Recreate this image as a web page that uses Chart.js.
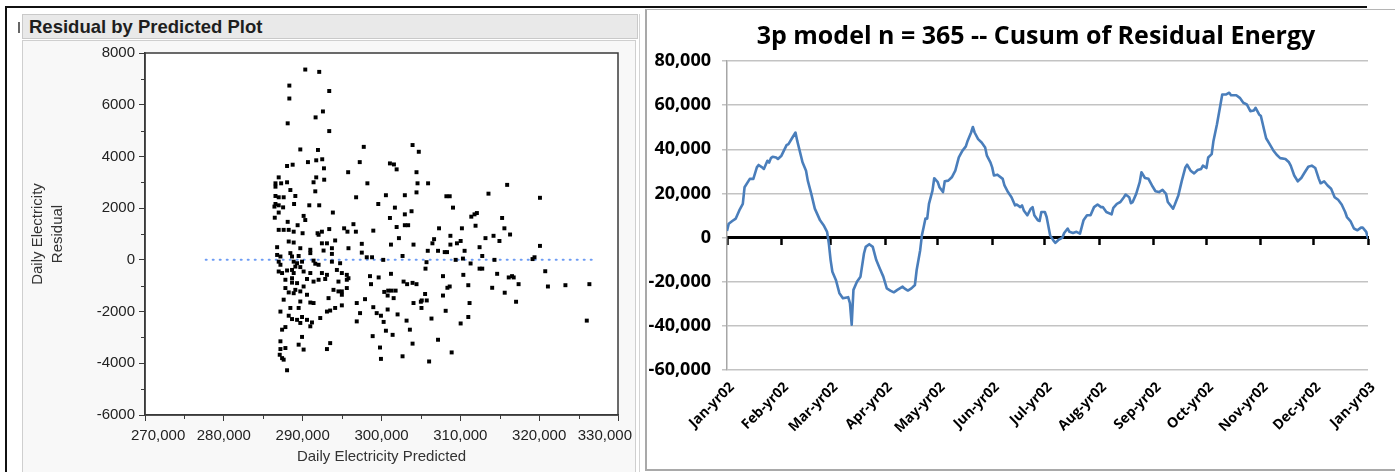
<!DOCTYPE html>
<html>
<head>
<meta charset="utf-8">
<script src="https://cdn.jsdelivr.net/npm/chart.js@4.4.0/dist/chart.umd.min.js"></script>
<style>
  html, body { margin: 0; padding: 0; background: #fff; }
  body { width: 1395px; height: 472px; position: relative; overflow: hidden; font-family: "Liberation Sans", Arial, sans-serif; }
  #topLine { position: absolute; left: 5px; top: 6px; width: 1362px; height: 2px; background: #111; }
  #leftLine { position: absolute; left: 5px; top: 6px; width: 2px; height: 466px; background: #111; }
  #mark { position: absolute; left: 18px; top: 22px; width: 2px; height: 11px; background: #666; }
  #titleBar { position: absolute; left: 22px; top: 14px; width: 614px; height: 23px; background: #e9e9e9; border: 1px solid #c9c9c9; }
  #titleBar span { position: absolute; left: 6px; top: 1px; font: bold 18.5px "Liberation Sans", Arial, sans-serif; color: #1e1e1e; white-space: nowrap; }
  #leftPanel { position: absolute; left: 22px; top: 40px; width: 612px; height: 432px; background: #f8f8f8; border: 1px solid #cfcfcf; border-bottom: none; }
  #outerEdge { position: absolute; left: 639px; top: 14px; width: 1px; height: 458px; background: #d4d4d4; }
  #rightPanel { position: absolute; left: 645px; top: 9px; width: 748px; height: 459px; background: #fff;
                border-left: 2px solid #a9a9a9; border-top: 1px solid #b5b5b5; border-bottom: 2px solid #a9a9a9; }
  #cusumTitle { position: absolute; left: 736px; top: 19px; width: 600px; text-align: center;
                font: bold 25px/30px "Open Sans", sans-serif; color: #000; white-space: nowrap; }
  canvas { display: block; }
</style>
</head>
<body>
<div id="topLine"></div>
<div id="leftLine"></div>
<div id="mark"></div>
<div id="titleBar"><span>Residual by Predicted Plot</span></div>
<div id="leftPanel"><canvas id="residualChart" width="612" height="432"></canvas></div>
<div id="outerEdge"></div>
<div id="rightPanel"><canvas id="cusumChart" width="748" height="459"></canvas></div>
<div id="cusumTitle">3p model n = 365 -- Cusum of Residual Energy</div>

<script>
// ---- left panel: residual by predicted ----
const predicted = [
  290330,292100,288310,293370,288310,292570,291640,288100,293370,289700,
  291940,288020,288730,290670,291720,292480,292700,295770,297750,297240,
  286960,291720,292730,291380,286550,287270,288020,286550,298210,288440,
  291600,286550,286960,287590,289070,296780,286550,286960,287520,286420,
  288910,290840,292100,286960,293830,286460,290120,290330,288100,289360,
  296440,286960,287590,288230,288860,289990,291890,292440,293370,295260,
  295680,296750,292020,
  286760,288230,288860,289700,290970,292440,293080,293710,294120,295810,
  297500,286760,287180,288440,288650,289490,290970,292650,293710,297500,
  298130,286960,288860,289290,289920,291380,291600,292020,293710,294750,
  287180,289070,289700,286960,287390,288020,288650,288860,290120,290970,
  292440,293080,294340,294970,295600,287810,288650,288650,289290,290550,
  291380,292020,292860,294540,295600,295810,287810,288230,289070,289700,
  290120,293910,294540,294970,295600,290550,288860,287590,289700,290970,
  291380,293280,294970,296860,297910,294970,287180,288440,289490,293080,
  293490,294120,292230,297280,288230,288650,289290,289920,290550,291180,
  290970,289700,287810,287390,296860,287180,289920,289490,290120,287180,
  287810,293490,293080,287090,287390,287590,288020,
  303940,304730,301070,301580,301920,304440,304570,305910,315940,304440,
  300560,302960,308230,308650,313570,320100,299590,301700,303810,302960,
  309070,301070,311390,311800,312100,315300,301920,302960,303380,298960,
  307300,310200,311930,315590,316310,302210,306670,306460,308740,309570,
  310040,313190,314210,314960,301200,304060,308740,312440,320100,305870,
  307170,308020,308310,310540,298800,302670,312780,319410,319160,300220,
  305710,309410,310330,311300,314330,305580,312440,312780,320770,298540,
  299640,301200,307800,310380,314670,316140,316560,316770,298670,302800,
  303250,303940,304440,308360,308650,311010,314040,317390,321110,323330,
  326370,300350,300850,301280,301790,300780,301540,305530,307800,315630,
  304060,304990,305740,305110,311170,317070,298960,300780,305070,308140,
  302040,299390,299930,306340,311010,300270,303180,310040,326040,303600,
  300560,301410,298880,307170,303940,299810,308900,299930,302670,306040
];
const residual = [
  7360,7270,6740,6530,6240,5740,5510,5280,4980,4270,
  4250,3630,3680,3780,3850,3890,3540,3390,4370,3780,
  3190,3190,3100,3000,2960,2960,3000,2830,2960,2700,
  2650,2470,2420,2420,2470,2420,2160,2110,2030,2060,
  2160,2110,2110,1830,1830,1630,1700,1540,1470,1340,
  1380,1160,1160,1160,1090,1030,1030,1090,1190,1220,
  1090,1090,970,
  490,710,670,450,390,640,640,450,750,450,
  620,190,130,260,130,150,260,360,230,280,
  100,-70,-70,-130,-70,-30,-150,-190,-70,-130,
  -190,-260,-280,-450,-510,-410,-390,-510,-450,-510,
  -510,-580,-390,-510,-580,-770,-710,-880,-900,-740,
  -840,-770,-740,-840,-770,-710,-1090,-1260,-1160,-1220,
  -1030,-1160,-1220,-1220,-1090,-1350,-1290,-1540,-1610,-1650,
  -1670,-1480,-1350,-1670,-1520,-1760,-2000,-1860,-1860,-2000,
  -1960,-1860,-2250,-2060,-2160,-2290,-2320,-2210,-2320,-2420,
  -2570,-2440,-2600,-2700,-2380,-3150,-2980,-3280,-3470,-3450,
  -3410,-3220,-3450,-3670,-3800,-3860,-4270,
  4440,4180,3730,3690,3500,3390,2960,2960,2900,2610,
  2500,2500,2460,2460,2560,2400,2160,2020,1880,1760,
  2020,1620,1670,1760,1810,1620,1270,1340,1340,1130,
  1220,1220,1320,1220,980,840,800,640,930,640,
  730,840,930,730,590,590,590,490,540,350,
  350,300,300,350,100,150,150,100,30,0,
  -90,0,50,-140,0,-340,-340,-340,-440,-630,
  -680,-540,-630,-580,-540,-680,-630,-680,-940,-840,
  -940,-890,-940,-1080,-1030,-980,-1080,-940,-1030,-980,
  -940,-1240,-1190,-1190,-1190,-1380,-1480,-1320,-1380,-1270,
  -1670,-1620,-1570,-1570,-1670,-1620,-1830,-1920,-1860,-1970,
  -2110,-2060,-2160,-2270,-2210,-2400,-2350,-2460,-2350,-2700,
  -2740,-2900,-2950,-3090,-3240,-3390,-3580,-3830,-3730,-3930
];
const zeroLineX = [277700, 327000];
const predictedTicks = [270000, 280000, 290000, 300000, 310000, 320000, 330000];
const minorX = [275000, 285000, 295000, 305000, 315000, 325000];
const minorY = [-5000, -3000, -1000, 1000, 3000, 5000, 7000];

// ---- right panel: cusum ----
const cusumDay = [
  0,1,3,5,7,9,10,13,15,17,18,20,21,23,24,25,26,28,29,31,34,35,37,39,40,43,45,46,48,50,
  53,55,57,58,59,60,62,64,66,69,70,71,72,74,76,78,79,81,83,85,87,89,91,93,95,97,100,101,103,105,
  107,108,110,111,112,113,114,115,117,118,120,121,123,124,126,128,130,132,134,136,137,139,140,141,143,145,147,148,150,151,
  152,154,157,158,160,162,164,165,167,168,169,171,173,174,175,177,178,179,181,182,184,186,187,189,191,192,194,195,197,199,
  201,203,205,207,209,211,213,214,216,219,220,222,224,226,227,229,230,231,233,235,236,238,240,242,244,246,248,250,251,254,
  255,257,259,261,262,264,266,268,270,271,273,274,276,277,279,281,282,284,286,287,290,292,294,296,298,300,301,303,304,306,
  307,309,311,313,315,318,320,321,323,325,327,329,331,333,335,337,338,340,342,344,346,348,350,352,353,355,357,359,361,362,
  364,365
];
const cusumValue = [
  3000,6300,7500,8600,12300,15300,22800,26600,26600,31800,32900,31800,31100,34800,34000,36000,36600,36300,35600,37100,42000,42300,45000,47600,43800,34100,30300,25800,19800,13100,
  7800,5600,2600,-2700,-10200,-15500,-19200,-25200,-27500,-27000,-29700,-39500,-23700,-20000,-17700,-7200,-4200,-3000,-4200,-10200,-14000,-17700,-23000,-24000,-24800,-23700,-22200,-23000,-24000,-23000,
  -21500,-14700,-5700,1100,4800,8600,8600,15300,21300,26900,25100,22800,20600,25500,25800,27300,30300,36300,39300,41300,43800,47600,50100,47600,44600,43100,40800,37100,34100,31800,
  28100,28500,26600,23600,20600,18300,14600,15000,13800,14600,12300,10100,13100,13800,10100,7800,7500,11600,11600,9300,1000,-1500,-2400,-900,0,2100,4100,2600,2100,2600,
  1800,7800,10100,10100,13800,15000,13800,13800,11600,10500,13500,15300,16100,18300,19500,18300,15600,16100,19800,25100,29600,27000,26600,23600,21000,20600,21600,19800,16100,13100,
  15000,19100,25800,31800,33000,30300,29100,30600,31100,32600,31500,36300,37800,43800,51300,60300,64800,64800,65600,64500,64500,63300,61100,60300,57300,57600,58800,55800,55100,48300,
  45000,42300,39600,37500,36000,35600,34100,32600,28100,25500,27000,29600,32100,32600,31500,26600,24600,25500,23600,22100,18300,17100,15000,11600,9300,7500,4100,3300,4500,4500,
  2600,-500
];
const monthDays = [0, 31, 59, 90, 120, 151, 181, 212, 243, 273, 304, 334, 365];
const monthLabels = ['Jan-yr02', 'Feb-yr02', 'Mar-yr02', 'Apr-yr02', 'May-yr02', 'Jun-yr02',
  'Jul-yr02', 'Aug-yr02', 'Sep-yr02', 'Oct-yr02', 'Nov-yr02', 'Dec-yr02', 'Jan-yr03'];

const jmpFont = 'Liberation Sans, Arial, sans-serif';
const xlFont = 'Open Sans, sans-serif';
const axisColor = '#3a3a3a';

// white plot background, frame, in-between ticks and the JMP-style x labels
// (edge labels are pulled inward so they stay inside the frame)
const plotFrame = {
  id: 'plotFrame',
  beforeDraw(chart) {
    const {ctx, chartArea: a} = chart;
    ctx.save();
    ctx.fillStyle = '#fff';
    ctx.fillRect(a.left, a.top, a.right - a.left, a.bottom - a.top);
    ctx.restore();
  },
  afterDraw(chart) {
    const {ctx, chartArea: a, scales} = chart;
    ctx.save();
    ctx.strokeStyle = axisColor;
    ctx.lineWidth = 1.5;
    ctx.strokeRect(a.left, a.top, a.right - a.left, a.bottom - a.top);
    ctx.lineWidth = 1;
    ctx.beginPath();
    minorX.forEach(v => {
      const px = Math.round(scales.x.getPixelForValue(v)) + 0.5;
      ctx.moveTo(px, a.bottom);
      ctx.lineTo(px, a.bottom + 4);
    });
    minorY.forEach(v => {
      const py = Math.round(scales.y.getPixelForValue(v)) + 0.5;
      ctx.moveTo(a.left, py);
      ctx.lineTo(a.left - 4, py);
    });
    ctx.stroke();

    ctx.font = '15px ' + jmpFont;
    ctx.fillStyle = '#222';
    ctx.textAlign = 'center';
    ctx.textBaseline = 'top';
    predictedTicks.forEach(v => {
      const label = v.toLocaleString('en-US');
      const w = ctx.measureText(label).width;
      let cx = scales.x.getPixelForValue(v);
      cx = Math.max(cx, a.left - 14 + w / 2);
      cx = Math.min(cx, a.right + 14 - w / 2);
      ctx.fillText(label, cx, a.bottom + 13);
    });
    ctx.restore();
  }
};

new Chart(document.getElementById('residualChart'), {
  type: 'scatter',
  data: {
    datasets: [
      {
        data: predicted.map((x, i) => ({x: x, y: residual[i]})),
        pointStyle: 'rect',
        pointRadius: 2.8,
        backgroundColor: '#000',
        borderColor: '#000',
        borderWidth: 0
      },
      {
        type: 'line',
        data: zeroLineX.map(x => ({x: x, y: 0})),
        borderColor: '#6d9cf4',
        borderWidth: 2,
        borderDash: [1, 6],
        borderCapStyle: 'round',
        pointRadius: 0
      }
    ]
  },
  options: {
    responsive: false,
    animation: false,
    events: [],
    layout: {padding: {top: 12, right: 17, left: 0, bottom: 0}},
    plugins: {legend: {display: false}, tooltip: {enabled: false}},
    scales: {
      x: {
        type: 'linear',
        min: 270000,
        max: 330000,
        ticks: {stepSize: 10000, display: false},
        grid: {drawOnChartArea: false, color: axisColor, tickLength: 6},
        border: {color: axisColor, width: 1.5},
        title: {
          display: true,
          text: 'Daily Electricity Predicted',
          font: {family: jmpFont, size: 15},
          color: '#333',
          padding: {top: 0, bottom: 7}
        },
        afterFit(s) { s.height = 58; s.paddingLeft = 0; s.paddingRight = 0; }
      },
      y: {
        min: -6000,
        max: 8000,
        ticks: {
          stepSize: 2000,
          callback: v => String(v),
          font: {family: jmpFont, size: 15},
          color: '#222',
          padding: 4
        },
        grid: {drawOnChartArea: false, color: axisColor, tickLength: 6},
        border: {color: axisColor, width: 1.5},
        title: {
          display: true,
          text: ['Daily Electricity', 'Residual'],
          font: {family: jmpFont, size: 15, lineHeight: 1.33},
          color: '#333',
          padding: {top: 5, bottom: 0}
        },
        afterFit(s) { s.width = 122; s.paddingTop = 0; s.paddingBottom = 0; }
      }
    }
  },
  plugins: [plotFrame]
});

// title is the html div above the canvas; top padding keeps its room
new Chart(document.getElementById('cusumChart'), {
  type: 'line',
  data: {
    datasets: [{
      data: cusumDay.map((d, i) => ({x: d, y: cusumValue[i]})),
      borderColor: '#4a7ebb',
      borderWidth: 2.6,
      borderJoinStyle: 'round',
      pointRadius: 0,
      tension: 0
    }]
  },
  options: {
    responsive: false,
    animation: false,
    events: [],
    layout: {padding: {top: 51, right: 27, left: 0, bottom: 0}},
    plugins: {legend: {display: false}, tooltip: {enabled: false}},
    scales: {
      x: {
        type: 'linear',
        min: 0,
        max: 365,
        afterBuildTicks(s) { s.ticks = monthDays.map(v => ({value: v})); },
        ticks: {
          autoSkip: false,
          minRotation: 45,
          maxRotation: 45,
          callback: (v, i) => monthLabels[i],
          font: {family: xlFont, weight: 'bold', size: 14},
          color: '#000',
          padding: 1,
          labelOffset: 5
        },
        grid: {display: false},
        border: {display: false},
        afterFit(s) { s.height = 99; s.paddingLeft = 0; s.paddingRight = 0; }
      },
      xZero: {
        type: 'linear',
        position: {y: 0},
        min: 0,
        max: 365,
        afterBuildTicks(s) { s.ticks = monthDays.map(v => ({value: v})); },
        ticks: {display: false},
        grid: {drawOnChartArea: false, tickLength: 6, tickWidth: 2.5, tickColor: '#000'},
        border: {color: '#000', width: 3},
        afterFit(s) { s.paddingLeft = 0; s.paddingRight = 0; }
      },
      y: {
        min: -60000,
        max: 80000,
        ticks: {
          stepSize: 20000,
          callback: v => v.toLocaleString('en-US'),
          font: {family: xlFont, weight: 'bold', size: 18},
          color: '#000',
          padding: 11
        },
        grid: {color: '#c3c3c3', lineWidth: 1.5, tickLength: 5},
        border: {color: '#a6a6a6', width: 1.5},
        afterFit(s) { s.width = 80; s.paddingTop = 0; s.paddingBottom = 0; }
      }
    }
  }
});
</script>
</body>
</html>
